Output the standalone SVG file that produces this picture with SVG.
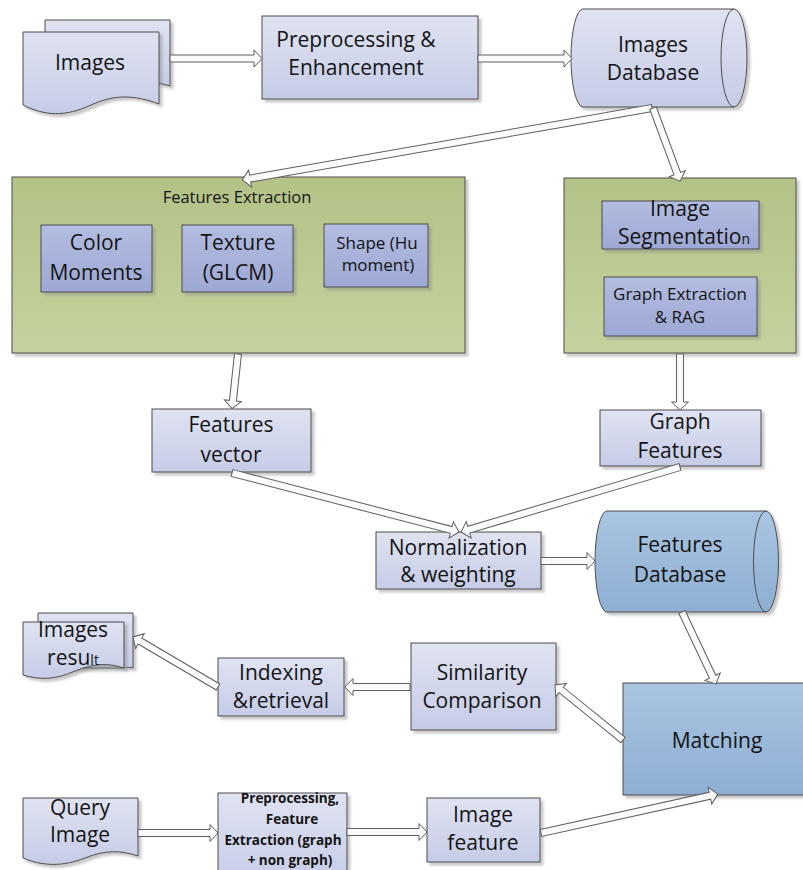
<svg xmlns="http://www.w3.org/2000/svg" width="803" height="870" viewBox="0 0 803 870">
<defs>
<linearGradient id="gLav" x1="0" y1="0" x2="0" y2="1"><stop offset="0" stop-color="#dfe3f1"/><stop offset="1" stop-color="#c6cce7"/></linearGradient>
<linearGradient id="gInner" x1="0" y1="0" x2="0" y2="1"><stop offset="0" stop-color="#b3bde1"/><stop offset="1" stop-color="#9da8d4"/></linearGradient>
<linearGradient id="gGreen" x1="0" y1="0" x2="0" y2="1"><stop offset="0" stop-color="#b3c287"/><stop offset="1" stop-color="#c5d29e"/></linearGradient>
<linearGradient id="gBlue" x1="0" y1="0" x2="0" y2="1"><stop offset="0" stop-color="#a9c5e1"/><stop offset="1" stop-color="#8eafd3"/></linearGradient>
<filter id="sh" x="-10%" y="-10%" width="130%" height="130%"><feDropShadow dx="3" dy="3" stdDeviation="1" flood-color="#888888" flood-opacity="0.45"/></filter>
<style>
.n{stroke:#4d4d4d;stroke-width:1;filter:url(#sh)}
.lav{fill:url(#gLav)}
.inn{fill:url(#gInner)}
.grn{fill:url(#gGreen)}
.blu{fill:url(#gBlue)}
.edge{fill:none;stroke:#4d4d4d;stroke-width:1}
.t{font-family:"Open Sans","Liberation Sans",sans-serif;font-size:21px;fill:#141414;text-anchor:middle}
.s{font-size:17px}
.tt{font-size:16.5px}
.b{font-size:13.5px;font-weight:bold}
.a{fill:#fbfbfb;stroke:#5e5e5e;stroke-width:1;stroke-linejoin:miter}
</style>
</defs>

<g id="images">
<path class="n lav" d="M45,20 H170 V86 C150,80 140,80 135,84 L45,84 Z"/>
<path class="n lav" d="M23,32 H159 V104 C135,95 115,94 91,105 C65,117 45,116 23,105 Z"/>
<text class="t" x="90" y="70">Images</text>
</g>

<g id="preprocessing">
<rect class="n lav" x="262" y="16" width="216" height="83"/>
<text class="t" x="356" y="47">Preprocessing &amp;</text>
<text class="t" x="356" y="75">Enhancement</text>
</g>

<g id="images-db">
<path class="n lav" d="M583,9 H734 A13,49 0 0 1 734,107 H583 A12,49 0 0 1 583,9 Z"/>
<path class="edge" d="M734,9 A13,49 0 0 0 734,107"/>
<text class="t" x="653" y="52">Images</text>
<text class="t" x="653" y="80">Database</text>
</g>

<g id="features-extraction">
<rect class="n grn" x="12" y="177" width="453" height="176"/>
<text class="t tt" x="237" y="203">Features Extraction</text>
</g>

<g id="color-moments">
<rect class="n inn" x="41" y="225" width="111" height="67"/>
<text class="t" x="96" y="250">Color</text>
<text class="t" x="96" y="280">Moments</text>
</g>

<g id="texture">
<rect class="n inn" x="182" y="225" width="111" height="67"/>
<text class="t" x="238" y="250">Texture</text>
<text class="t" x="238" y="280">(GLCM)</text>
</g>

<g id="shape">
<rect class="n inn" x="324" y="224" width="104" height="63"/>
<text class="t s" x="377" y="249">Shape (Hu</text>
<text class="t s" x="378" y="271">moment)</text>
</g>

<g id="graph-container">
<rect class="n grn" x="564" y="178" width="232" height="175"/>
</g>

<g id="image-segmentation">
<rect class="n inn" x="602" y="201" width="157" height="48"/>
<text class="t" x="680" y="216">Image</text>
<text class="t" x="684" y="244">Segmentatio<tspan style="font-size:14px">n</tspan></text>
</g>

<g id="graph-extraction">
<rect class="n inn" x="604" y="277" width="153" height="59"/>
<text class="t s" x="680" y="300">Graph Extraction</text>
<text class="t s" x="680" y="323">&amp; RAG</text>
</g>

<g id="features-vector">
<rect class="n lav" x="152" y="409" width="159" height="63"/>
<text class="t" x="231" y="432">Features</text>
<text class="t" x="231" y="462">vector</text>
</g>

<g id="graph-features">
<rect class="n lav" x="600" y="410" width="161" height="56"/>
<text class="t" x="680" y="429">Graph</text>
<text class="t" x="680" y="458">Features</text>
</g>

<g id="normalization">
<rect class="n lav" x="376" y="532" width="165" height="57"/>
<text class="t" x="458" y="555">Normalization</text>
<text class="t" x="458" y="582">&amp; weighting</text>
</g>

<g id="features-db">
<path class="n blu" d="M607,511 H766 A12.5,50.5 0 0 1 766,612 H607 A12,50.5 0 0 1 607,511 Z"/>
<path class="edge" d="M766,511 A12.5,50.5 0 0 0 766,612"/>
<text class="t" x="680" y="552">Features</text>
<text class="t" x="680" y="582">Database</text>
</g>

<g id="images-result">
<path class="n lav" d="M38,613 H133 V668 C128,667 126,667 124,668 L38,668 Z"/>
<path class="n lav" d="M23,622 H124 V668 C108,663 95,663 75,671 C55,680 40,680 23,675 Z"/>
<text class="t" x="73" y="637">Images</text>
<text class="t" x="73" y="665">resu<tspan style="font-size:14px">lt</tspan></text>
</g>

<g id="indexing">
<rect class="n lav" x="218" y="658" width="126" height="58"/>
<text class="t" x="281" y="680">Indexing</text>
<text class="t" x="281" y="708">&amp;retrieval</text>
</g>

<g id="similarity">
<rect class="n lav" x="411" y="643" width="145" height="87"/>
<text class="t" x="482" y="680">Similarity</text>
<text class="t" x="482" y="708">Comparison</text>
</g>

<g id="matching">
<rect class="n blu" x="623" y="683" width="190" height="112"/>
<text class="t" x="717" y="748">Matching</text>
</g>

<g id="query-image">
<path class="n lav" d="M23,798 H138 V856 C120,850 105,850 85,858 C62,867 42,866 23,858 Z"/>
<text class="t" x="80" y="815">Query</text>
<text class="t" x="80" y="842">Image</text>
</g>

<g id="preprocessing-feature">
<rect class="n lav" x="218" y="793" width="129" height="90"/>
<text class="t b" x="290" y="803">Preprocessing,</text>
<text class="t b" x="292" y="824">Feature</text>
<text class="t b" x="283" y="845">Extraction (graph</text>
<text class="t b" x="290" y="865">+ non graph)</text>
</g>

<g id="image-feature">
<rect class="n lav" x="427" y="798" width="113" height="64"/>
<text class="t" x="483" y="822">Image</text>
<text class="t" x="483" y="850">feature</text>
</g>

<g id="connectors">
<polygon class="a" transform="translate(170,58.5)" points="0,-3.5 84,-3.5 84,-8.5 92,0 84,8.5 84,3.5 0,3.5"/>
<polygon class="a" transform="translate(478,58.5)" points="0,-3.5 86,-3.5 86,-8.5 94,0 86,8.5 86,3.5 0,3.5"/>
<polygon class="a" transform="translate(652,108) rotate(170.04)" points="0,-3.5 408,-3.5 408,-8.5 416,0 408,8.5 408,3.5 0,3.5"/>
<polygon class="a" transform="translate(653,108) rotate(69.7)" points="0,-3.5 70,-3.5 70,-8.5 78,0 70,8.5 70,3.5 0,3.5"/>
<polygon class="a" transform="translate(238,354) rotate(96.2)" points="0,-3.5 47,-3.5 47,-8.5 55,0 47,8.5 47,3.5 0,3.5"/>
<polygon class="a" transform="translate(680,354) rotate(90)" points="0,-3.5 48,-3.5 48,-8.5 56,0 48,8.5 48,3.5 0,3.5"/>
<polygon class="a" transform="translate(232,473) rotate(14.57)" points="0,-3.5 226.5,-3.5 226.5,-8.5 234.5,0 226.5,8.5 226.5,3.5 0,3.5"/>
<polygon class="a" transform="translate(680,467) rotate(163.47)" points="0,-3.5 220.4,-3.5 220.4,-8.5 228.4,0 220.4,8.5 220.4,3.5 0,3.5"/>
<polygon class="a" transform="translate(541,561)" points="0,-3.5 46,-3.5 46,-8.5 54,0 46,8.5 46,3.5 0,3.5"/>
<polygon class="a" transform="translate(682,612) rotate(64.7)" points="0,-3.5 71.6,-3.5 71.6,-8.5 79.6,0 71.6,8.5 71.6,3.5 0,3.5"/>
<polygon class="a" transform="translate(623,740) rotate(-141.03)" points="0,-3.5 79.5,-3.5 79.5,-8.5 87.5,0 79.5,8.5 79.5,3.5 0,3.5"/>
<polygon class="a" transform="translate(410,687) rotate(180)" points="0,-3.5 57,-3.5 57,-8.5 65,0 57,8.5 57,3.5 0,3.5"/>
<polygon class="a" transform="translate(218,687) rotate(-149.5)" points="0,-3.5 90.6,-3.5 90.6,-8.5 98.6,0 90.6,8.5 90.6,3.5 0,3.5"/>
<polygon class="a" transform="translate(138,833)" points="0,-3.5 72,-3.5 72,-8.5 80,0 72,8.5 72,3.5 0,3.5"/>
<polygon class="a" transform="translate(347,832)" points="0,-3.5 72,-3.5 72,-8.5 80,0 72,8.5 72,3.5 0,3.5"/>
<polygon class="a" transform="translate(541,833) rotate(-12.43)" points="0,-3.5 173,-3.5 173,-8.5 181,0 173,8.5 173,3.5 0,3.5"/>
</g>
</svg>
